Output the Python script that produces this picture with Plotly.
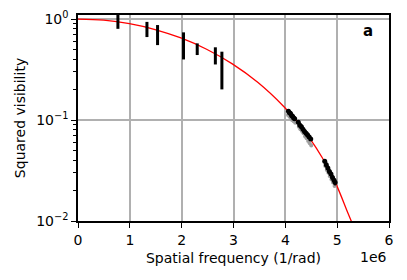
import plotly.graph_objects as go

# Low-frequency measurements (units of 1e6 / rad)
low_u = [0.77, 1.33, 1.535, 2.036, 2.30, 2.65, 2.776]
low_v2 = [1.00, 0.80, 0.712, 0.568, 0.507, 0.44, 0.338]
low_err = [0.20, 0.137, 0.16, 0.17, 0.067, 0.085, 0.137]

# High-frequency measurements (black)
high_u = [4.06, 4.08, 4.10, 4.12, 4.14, 4.16, 4.18, 4.25, 4.28, 4.31, 4.34, 4.37,
          4.40, 4.43, 4.46, 4.49, 4.76, 4.79, 4.82, 4.85, 4.88, 4.91, 4.94, 4.96]
high_v2 = [0.122, 0.118, 0.116, 0.111, 0.109, 0.105, 0.103, 0.095, 0.089, 0.086,
           0.081, 0.077, 0.074, 0.071, 0.068, 0.065, 0.039, 0.036, 0.0335, 0.031,
           0.0292, 0.0270, 0.0253, 0.0240]
high_err = [0.006, 0.006, 0.006, 0.005, 0.005, 0.005, 0.005, 0.005, 0.004, 0.004,
            0.004, 0.004, 0.004, 0.004, 0.003, 0.003, 0.002, 0.002, 0.002, 0.002,
            0.0018, 0.0017, 0.0016, 0.0015]

# Secondary (grey) measurements
grey_u = [4.05, 4.08, 4.11, 4.13, 4.16, 4.19, 4.26, 4.29, 4.32, 4.35, 4.38, 4.41,
          4.44, 4.47, 4.50, 4.77, 4.80, 4.83, 4.86, 4.89, 4.92, 4.95]
grey_v2 = [0.112, 0.108, 0.104, 0.100, 0.097, 0.094, 0.086, 0.081, 0.078, 0.074,
           0.069, 0.066, 0.062, 0.059, 0.056, 0.035, 0.032, 0.030, 0.0278, 0.0258,
           0.0240, 0.0222]

# Model curve (uniform disk fit)
model_u = [0.0, 0.496, 0.992, 1.488, 1.985, 2.481, 2.977, 3.473, 3.969, 4.217,
           4.465, 4.713, 4.962, 5.209, 5.31]
model_v2 = [1.0, 0.9743, 0.9004, 0.7876, 0.6495, 0.5018, 0.3595, 0.2350, 0.1363,
            0.09785, 0.06661, 0.04227, 0.02428, 0.01193, 0.00896]

fig = go.Figure()

fig.add_trace(go.Scatter(
    x=model_u, y=model_v2, mode="lines", line=dict(color="red", width=1.3, shape="spline"),
    hoverinfo="skip", showlegend=False))

fig.add_trace(go.Scatter(
    x=low_u, y=low_v2, mode="markers", marker=dict(size=1, color="black"),
    error_y=dict(type="data", array=low_err, color="black", thickness=3, width=0),
    showlegend=False))

fig.add_trace(go.Scatter(
    x=grey_u, y=grey_v2, mode="markers", marker=dict(size=4, color="#a0a0a0"),
    showlegend=False))

fig.add_trace(go.Scatter(
    x=high_u, y=high_v2, mode="markers", marker=dict(size=5, color="black"),
    error_y=dict(type="data", array=high_err, color="black", thickness=2, width=0),
    showlegend=False))

font = dict(family="DejaVu Sans", size=14, color="black")

fig.update_layout(
    width=407, height=280,
    margin=dict(l=78, r=18, t=15, b=59),
    paper_bgcolor="white", plot_bgcolor="white",
    font=font,
    xaxis=dict(
        range=[0, 6], tickvals=[0, 1, 2, 3, 4, 5, 6], ticktext=["0", "1", "2", "3", "4", "5", "6"],
        showline=True, mirror=True, linecolor="black", linewidth=1.5,
        ticks="outside", ticklen=5, tickcolor="black", automargin=False,
        showgrid=True, gridcolor="#b0b0b0", gridwidth=1.5, zeroline=False,
        title=dict(text="Spatial frequency (1/rad)", font=font, standoff=7),
    ),
    yaxis=dict(
        type="log", range=[-2, 0.04],
        tickvals=[0.01, 0.1, 1], ticktext=["10<sup>−2</sup>", "10<sup>−1</sup>", "10<sup>0</sup>"],
        showline=True, mirror=True, linecolor="black", linewidth=1.5,
        ticks="outside", ticklen=5, tickcolor="black", automargin=False,
        minor=dict(ticks="outside", ticklen=3, tickcolor="black", showgrid=False,
                   tickvals=[0.02, 0.03, 0.04, 0.05, 0.06, 0.07, 0.08, 0.09,
                             0.2, 0.3, 0.4, 0.5, 0.6, 0.7, 0.8, 0.9]),
        showgrid=True, gridcolor="#b0b0b0", gridwidth=1.5, zeroline=False,
        title=dict(text="Squared visibility", font=font, standoff=7),
    ),
    annotations=[
        dict(text="1e6", xref="paper", yref="paper", x=1.0, y=-0.175, xanchor="right",
             yanchor="middle", showarrow=False, font=font),
        dict(text="<b>a</b>", xref="paper", yref="paper", x=0.955, y=0.92, xanchor="right",
             yanchor="middle", showarrow=False, font=dict(family="DejaVu Sans", size=15, color="black")),
    ],
)

fig.write_html("out.html", config={"displayModeBar": False},
               post_script="document.body.style.margin='0';")
